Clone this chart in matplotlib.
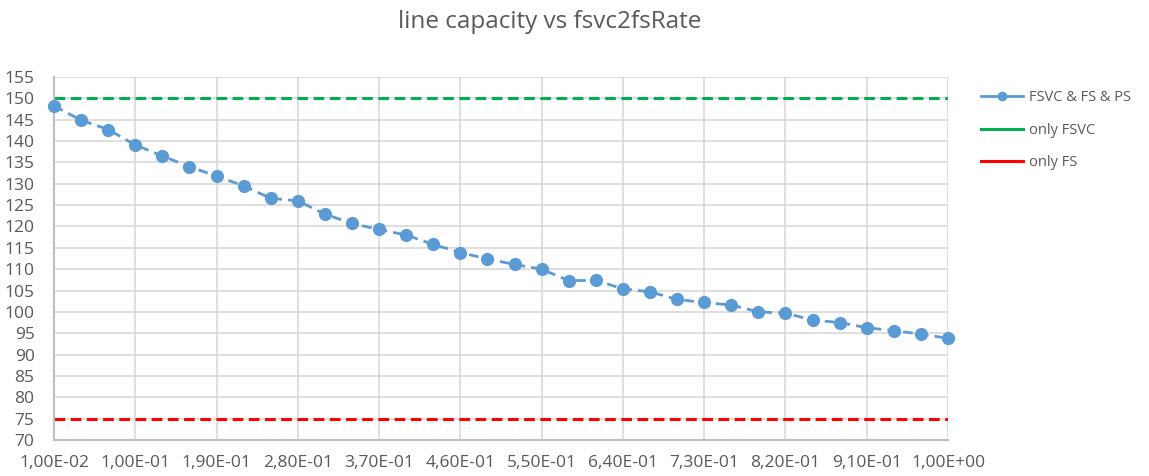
import matplotlib
matplotlib.use("Agg")
import matplotlib.pyplot as plt
from matplotlib.lines import Line2D

plt.rcParams['font.family'] = ['Open Sans', 'DejaVu Sans']

rates = [0.01, 0.04, 0.07, 0.10, 0.13, 0.16, 0.19, 0.22, 0.25, 0.28, 0.31, 0.34,
         0.37, 0.40, 0.43, 0.46, 0.49, 0.52, 0.55, 0.58, 0.61, 0.64, 0.67, 0.70,
         0.73, 0.76, 0.79, 0.82, 0.85, 0.88, 0.91, 0.94, 0.97, 1.00]
combined = [148.2, 144.9, 142.7, 139.1, 136.5, 134.0, 131.8, 129.5, 126.6, 126.0,
            122.9, 120.7, 119.3, 118.0, 115.8, 113.9, 112.4, 111.1, 110.0, 107.3,
            107.4, 105.4, 104.7, 102.9, 102.2, 101.6, 100.0, 99.7, 98.1, 97.5,
            96.3, 95.6, 94.8, 93.8]
only_fsvc = 150
only_fs = 75
series_names = ["FSVC & FS & PS", "only FSVC", "only FS"]
title = "line capacity vs fsvc2fsRate"

blue = "#5B9BD5"
green = "#00B050"
red = "#FF0000"
txt = "#595959"

fig = plt.figure(figsize=(11.49, 4.76), dpi=100)
ax = fig.add_axes([54/1149, 1-440/476, (948-54)/1149, (440-77)/476])

idx = list(range(len(rates)))
ax.plot(idx, combined, color=blue, lw=2.0, ls=(0, (3.5, 2.2)), marker='o',
        markersize=9.5, markeredgewidth=0, zorder=3, clip_on=False)
ax.plot(idx, [only_fsvc]*len(idx), color=green, lw=2.2, ls=(0, (3.5, 1.8)), zorder=2)
ax.plot(idx, [only_fs]*len(idx), color=red, lw=2.2, ls=(0, (3.5, 1.8)), zorder=2)

ax.set_xlim(0, len(rates)-1)
ax.set_ylim(70, 155)
ax.set_yticks(range(70, 156, 5))
tick_idx = idx[::3]
ax.set_xticks(tick_idx)

def fmt(v):
    s = "%.2E" % v
    return s.replace('.', ',')

ax.set_xticklabels([fmt(rates[i]) for i in tick_idx])
ax.tick_params(axis='both', length=0, labelsize=12.5, colors=txt)
ax.tick_params(axis='x', pad=11)
ax.tick_params(axis='y', pad=14)
ax.grid(True, color="#D9D9D9", lw=1.2)
ax.set_axisbelow(True)
for s in ['top', 'right']:
    ax.spines[s].set_visible(False)
for s in ['left', 'bottom']:
    ax.spines[s].set_color("#BFBFBF")
    ax.spines[s].set_linewidth(1.5)

fig.text(550/1149, 1-22/476, title, ha='center', va='center', fontsize=17.5, color=txt)

handles = [
    Line2D([], [], color=blue, lw=2.0, marker='o', markersize=6, markevery=[1]),
    Line2D([], [], color=green, lw=2.2),
    Line2D([], [], color=red, lw=2.2),
]
fig.legend(handles, series_names, loc='upper left', bbox_to_anchor=(968/1149, 1-77/476),
           frameon=False, fontsize=10.5, handlelength=2.9, labelspacing=1.2,
           handletextpad=0.4, labelcolor=txt)

fig.savefig("out.png", dpi=100)
